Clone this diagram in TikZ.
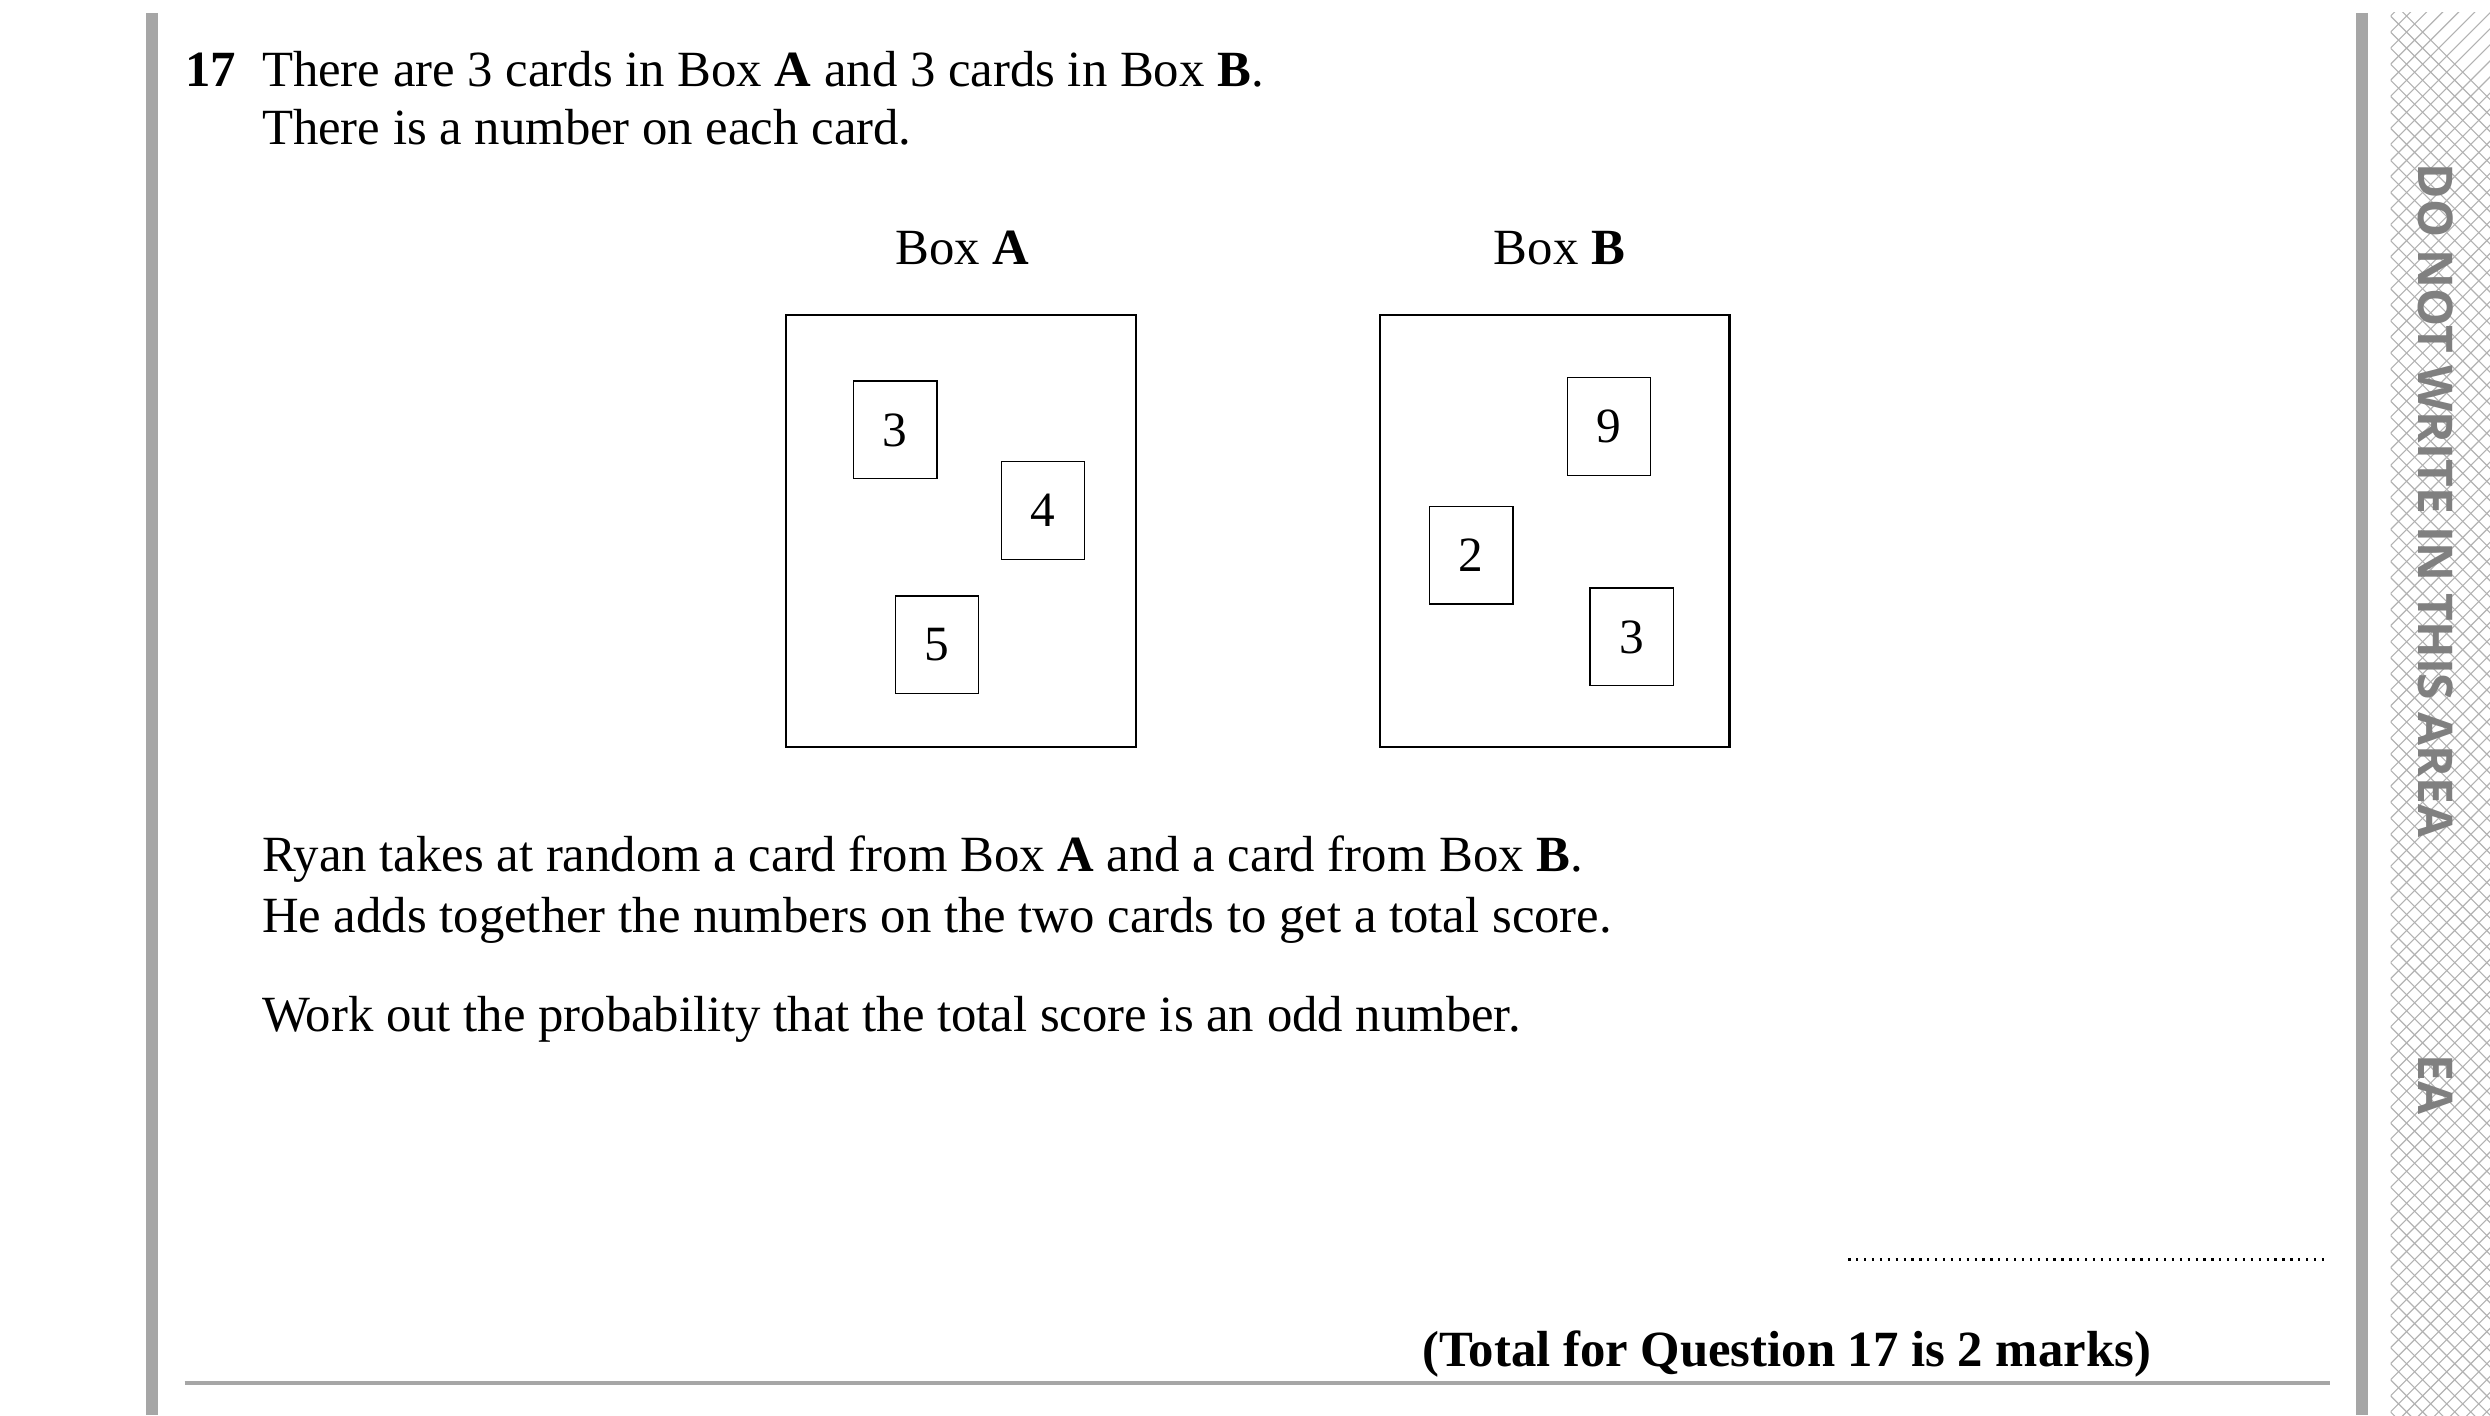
\documentclass[tikz,border=0pt]{standalone}
\usepackage{fontspec}
\setmainfont{Liberation Serif}
\newfontfamily\warnfont{Open Sans}
\usetikzlibrary{positioning}
\tikzset{%
    % boxes and cards
    box/.style  = {draw, thick, minimum width=4.36cm, minimum height=5.38cm},
    card/.style = {draw, minimum width=1.04cm, minimum height=1.22cm,
    font=\fontsize{17.5}{20}\selectfont},
    % text lines
    line/.style = {anchor=base west, inner sep=0pt,
    font=\fontsize{18}{21}\selectfont},
    warn/.style = {rotate=-90, text=black!50,
    font=\warnfont\bfseries\fontsize{17}{20}\selectfont},
    greybar/.style = {draw=black!35, line width=1.5mm}
}
\begin{document}
\begin{tikzpicture}[x=0.02cm, y=-0.02cm]
	\useasboundingbox (0,0) rectangle (1552,882);
	
	% margins
	\begin{scope}
		\clip (1490,8) rectangle (1552,882);
		\foreach \k in {0,10,...,960}
			\draw[black!30, thin] (1490,\k) -- ++(70,70) (1490,\k) -- ++(70,-70);
	\end{scope}
	\node[warn] (warn) at (1518,312) {DO NOT WRITE IN THIS AREA};
	\node[warn] (ea) at (1518,676) {EA};
	\draw[greybar] (95,8) -- (95,882);
	\draw[greybar] (1472,8) -- (1472,882);
	
	% question text
	\node[line, font=\bfseries\fontsize{18}{21}\selectfont] (num) at (115,54) {17};
	\node[line] (t1) at (163,54) {There are 3 cards in Box \textbf{A} and 3 cards in Box \textbf{B}.};
	\node[line] (t2) at (163,90) {There is a number on each card.};
	
	% boxes
	\node[box] (boxA) at (599,331) {};
	\node[box] (boxB) at (969,331) {};
	\node[line, anchor=base] (labA) at (600,165) {Box \textbf{A}};
	\node[line, anchor=base] (labB) at (972,165) {Box \textbf{B}};
	\node[card] (a3) at (558,268) {3};
	\node[card] (a4) at (650,318) {4};
	\node[card] (a5) at (584,402) {5};
	\node[card] (b9) at (1003,266) {9};
	\node[card] (b2) at (917,346) {2};
	\node[card] (b3) at (1017,397) {3};
	
	\node[line] (t3) at (163,543) {Ryan takes at random a card from Box \textbf{A} and a card from Box \textbf{B}.};
	\node[line] (t4) at (163,581) {He adds together the numbers on the two cards to get a total score.};
	\node[line] (t5) at (163,643) {Work out the probability that the total score is an odd number.};
	
	% answer line and total
	\coordinate (ansL) at (1152,785);
	\coordinate (ansR) at (1452,785);
	\draw[dotted, thick] (ansL) -- (ansR);
	\node[line, anchor=base east, font=\bfseries\fontsize{18}{21}\selectfont] (total) at (1341,852) {(Total for Question 17 is 2 marks)};
	\coordinate (ruleL) at (115,862);
	\coordinate (ruleR) at (1452,862);
	\draw[black!35, line width=0.6mm] (ruleL) -- (ruleR);
	
\end{tikzpicture}
\end{document}
